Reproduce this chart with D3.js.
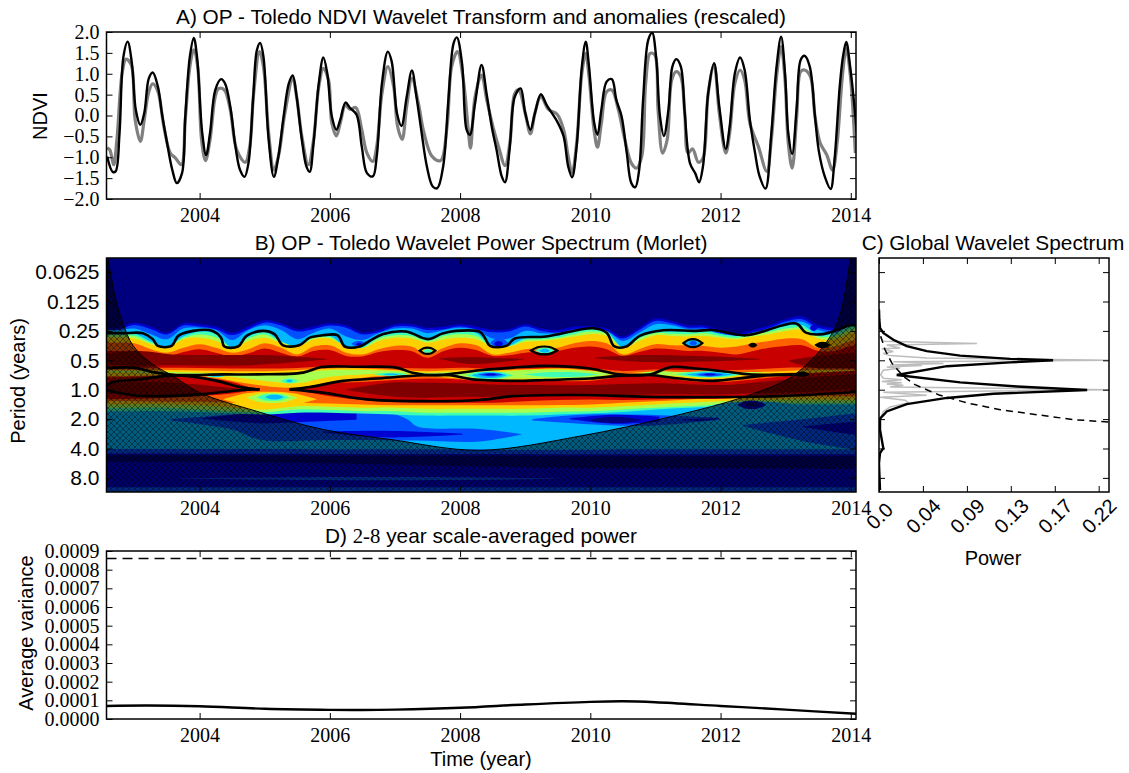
<!DOCTYPE html>
<html>
<head>
<meta charset="utf-8">
<script src="https://d3js.org/d3.v7.min.js"></script>
<style>
body { margin: 0; background: #fff; }
svg { display: block; }
.sans { font-family: "Liberation Sans", sans-serif; }
.serif { font-family: "Liberation Serif", serif; }
</style>
</head>
<body>
<div id="chart"></div>
<script>
// Panel A - NDVI wavelet transform (black) and anomalies (grey)
var blackYears = [2002.58,2002.665,2002.71,2002.77,2002.83,2002.895,2002.96,2003.02,2003.09,2003.15,2003.22,2003.28,2003.36,2003.42,2003.5,2003.58,2003.65,2003.73,2003.78,2003.85,2003.91,2003.96,2004.04,2004.1,2004.16,2004.24,2004.33,2004.39,2004.47,2004.55,2004.62,2004.69,2004.75,2004.82,2004.88,2004.93,2004.98,2005.06,2005.14,2005.21,2005.29,2005.37,2005.43,2005.49,2005.57,2005.64,2005.69,2005.75,2005.83,2005.9,2005.96,2006.03,2006.1,2006.16,2006.24,2006.31,2006.41,2006.49,2006.57,2006.66,2006.72,2006.8,2006.89,2006.95,2007.03,2007.1,2007.18,2007.26,2007.33,2007.41,2007.49,2007.58,2007.65,2007.74,2007.82,2007.9,2007.95,2008.03,2008.1,2008.15,2008.23,2008.33,2008.41,2008.49,2008.56,2008.64,2008.69,2008.76,2008.84,2008.93,2009,2009.08,2009.15,2009.24,2009.33,2009.49,2009.59,2009.66,2009.72,2009.79,2009.87,2009.93,2009.98,2010.06,2010.11,2010.17,2010.25,2010.33,2010.4,2010.48,2010.56,2010.63,2010.69,2010.75,2010.81,2010.89,2010.95,2011.01,2011.07,2011.13,2011.2,2011.26,2011.32,2011.39,2011.45,2011.53,2011.61,2011.67,2011.73,2011.81,2011.9,2011.98,2012.08,2012.14,2012.22,2012.3,2012.37,2012.45,2012.53,2012.6,2012.69,2012.78,2012.86,2012.93,2012.99,2013.04,2013.1,2013.17,2013.23,2013.29,2013.37,2013.45,2013.51,2013.6,2013.69,2013.75,2013.83,2013.88,2013.93,2013.99,2014.07,2014.09];
var blackNdvi = [-0.98,-1.35,-1.34,-0.42,1.41,1.77,1.25,0.14,-0.22,0.06,0.89,1.03,0.69,0.06,-0.66,-1.3,-1.62,-1.38,-0.02,1.41,1.86,1.41,-0.42,-0.95,-0.42,0.61,0.87,0.77,0.22,-0.74,-1.3,-1.47,-1.14,0.37,1.57,1.74,1.41,-0.58,-1.47,-0.98,-0.02,0.77,0.96,0.45,-0.58,-1.22,-1.35,-0.66,0.77,1.39,1.01,-0.02,-0.34,-0.1,0.31,0.18,0.02,-0.74,-1.38,-1.46,-0.98,0.77,1.53,1.29,0.06,-0.25,0.45,1.08,0.45,-0.42,-1.22,-1.7,-1.74,-1.22,0.37,1.73,1.87,1.25,-0.34,-0.46,0.29,1.21,0.49,-0.3,-0.82,-1.46,-1.6,-0.82,0.45,0.65,0.06,-0.34,0.06,0.51,0.25,-0.14,-0.5,-1.22,-1.48,-0.74,1.17,1.77,1.17,-0.18,-0.46,0.14,0.81,0.87,0.37,-0.02,-0.9,-1.62,-1.72,-1.3,0.37,1.81,1.98,1.41,-0.02,-0.49,0.14,1.17,1.35,1.17,0.06,-1.14,-1.38,-1.6,-1.22,0.53,1.25,0.22,-0.8,-0.26,1.01,1.39,1.09,-0.1,-0.9,-1.46,-1.75,-0.42,1.17,1.89,1.01,-0.42,-0.92,0.22,1.33,1.43,1.17,-0.02,-0.86,-1.46,-1.76,-1.06,0.69,1.41,1.76,1.17,-0.02,-0.4];
var greyYears = [2002.58,2002.62,2002.68,2002.73,2002.81,2002.87,2002.95,2003.01,2003.09,2003.15,2003.22,2003.28,2003.36,2003.45,2003.55,2003.63,2003.72,2003.78,2003.85,2003.91,2003.97,2004.03,2004.09,2004.16,2004.24,2004.29,2004.38,2004.47,2004.57,2004.7,2004.77,2004.83,2004.92,2004.98,2005.06,2005.14,2005.21,2005.31,2005.43,2005.49,2005.57,2005.67,2005.75,2005.83,2005.9,2005.98,2006.03,2006.1,2006.16,2006.24,2006.31,2006.4,2006.49,2006.57,2006.66,2006.72,2006.8,2006.89,2006.98,2007.04,2007.11,2007.18,2007.26,2007.36,2007.44,2007.57,2007.7,2007.8,2007.87,2007.96,2008.05,2008.13,2008.16,2008.23,2008.33,2008.41,2008.51,2008.59,2008.69,2008.77,2008.84,2008.9,2009,2009.08,2009.15,2009.24,2009.36,2009.49,2009.59,2009.66,2009.72,2009.79,2009.87,2009.93,2009.98,2010.06,2010.11,2010.17,2010.25,2010.33,2010.43,2010.53,2010.63,2010.71,2010.79,2010.85,2010.92,2010.99,2011.04,2011.11,2011.18,2011.25,2011.32,2011.39,2011.45,2011.5,2011.57,2011.66,2011.73,2011.81,2011.9,2011.98,2012.08,2012.14,2012.22,2012.3,2012.37,2012.45,2012.58,2012.71,2012.78,2012.86,2012.93,2012.99,2013.04,2013.1,2013.17,2013.23,2013.29,2013.38,2013.45,2013.53,2013.63,2013.72,2013.79,2013.87,2013.93,2013.99,2014.07];
var greyNdvi = [-0.78,-0.82,-1.18,-0.58,1.01,1.35,1.21,-0.1,-0.62,-0.1,0.57,0.76,0.57,-0.26,-0.9,-1.02,-1.18,-0.1,1.17,1.57,1.17,-0.58,-1.08,-0.58,0.45,0.64,0.61,0.14,-0.82,-1.12,-0.74,0.53,1.53,1.17,-0.42,-1.3,-0.98,0.06,0.89,0.45,-0.5,-1.18,-0.58,0.69,1.13,0.85,-0.18,-0.49,-0.18,0.25,0.15,0.19,-0.34,-0.9,-1.1,-0.74,0.53,1.17,0.69,-0.26,-0.57,0.22,0.89,0.29,-0.38,-0.98,-1.08,-0.26,1.17,1.53,0.85,-0.42,-0.78,0.45,0.97,0.37,-0.3,-0.74,-1.2,-0.58,0.53,0.61,0.06,-0.44,0.06,0.45,0.14,0.03,-0.34,-0.98,-1.38,-0.66,1.01,1.49,0.93,-0.38,-0.76,-0.18,0.57,0.61,0.14,-0.58,-1.14,-1.26,-0.98,0.77,1.49,1.45,0.14,-0.9,-0.58,0.85,1.05,0.93,0.06,-0.9,-0.8,-1.12,-1.02,0.53,1.21,0.06,-0.9,-0.42,0.77,1.09,0.85,-0.18,-0.74,-1.34,-0.58,0.93,1.65,0.85,-0.66,-1.26,-0.02,1.05,1.09,0.93,-0.02,-0.66,-0.94,-1.31,-0.66,0.93,1.6,1.01,-0.9];
var ndviTicks = [-2,-1.5,-1,-0.5,0,0.5,1,1.5,2];
var yearTicks = [2004,2006,2008,2010,2012,2014];

// Panel B - filled power levels, log2(period) of each level edge
var levelColors = ["#00007f","#0000d0","#0050ff","#00b8ff","#40ffb4","#a8ff50","#ffd000","#ff6000","#c80000","#7f0000"];
var periodTicks = [-4,-3,-2,-1,0,1,2,3];
var periodLabels = ["0.0625","0.125","0.25","0.5","1.0","2.0","4.0","8.0"];
var quarterYears = d3.range(0, 48).map(function(i) { return 2002.5 + i * 0.25; });
var halfYears = d3.range(0, 25).map(function(i) { return 2002.5 + i * 0.5; });

var blueTop = [-2.06,-2.11,-2.28,-2.15,-1.94,-2.26,-2.23,-2.15,-1.94,-2.15,-2.36,-2.26,-2.06,-2.15,-2.26,-2.19,-1.94,-2.03,-2.23,-2.23,-2.11,-2.15,-2.23,-2.15,-2.03,-2.06,-2.23,-2.08,-2.03,-2.15,-2.15,-2.08,-1.81,-2.11,-2.42,-2.34,-2.19,-2.19,-2.03,-1.92,-2.03,-2.19,-2.4,-2.49,-2.19,-2.11,-2.23,-2.28];
var azureTop = [-1.98,-2.03,-2.2,-2.06,-1.88,-2.18,-2.15,-2.06,-1.86,-2.06,-2.28,-2.18,-1.98,-2.06,-2.18,-2.11,-1.88,-1.95,-2.15,-2.15,-2.03,-2.06,-2.15,-2.06,-1.95,-1.98,-2.15,-2,-1.95,-2.06,-2.06,-2,-1.74,-2.03,-2.34,-2.26,-2.11,-2.11,-1.95,-1.85,-1.95,-2.11,-2.32,-2.4,-2.11,-2.03,-2.15,-2.2];
var cyanTop = [-2.03,-2.03,-2.08,-1.89,-1.72,-2.08,-2.11,-2.03,-1.69,-2.03,-2.19,-2.03,-1.72,-1.94,-2.08,-1.81,-1.69,-1.92,-2.08,-2.08,-1.92,-2.03,-2.11,-2.03,-1.74,-1.74,-2,-1.92,-1.92,-2.03,-2.08,-2,-1.66,-1.94,-2.23,-2.19,-2.06,-2.06,-1.89,-1.77,-1.89,-2.06,-2.26,-2.31,-2.03,-1.94,-2.06,-2.15];
var greenTop = [-1.9,-1.9,-1.9,-1.64,-1.47,-1.81,-1.97,-1.9,-1.44,-1.81,-1.97,-1.64,-1.49,-1.81,-1.83,-1.47,-1.44,-1.81,-1.92,-1.92,-1.72,-1.92,-1.98,-1.92,-1.47,-1.49,-1.75,-1.78,-1.83,-1.98,-2.07,-1.98,-1.44,-1.81,-2,-1.98,-1.98,-2.01,-1.9,-1.83,-1.94,-2.03,-2.17,-2.2,-1.86,-1.92,-2.17,-2.2];
var limeTop = [-1.85,-1.85,-1.83,-1.6,-1.45,-1.76,-1.88,-1.78,-1.43,-1.74,-1.88,-1.63,-1.48,-1.76,-1.78,-1.47,-1.43,-1.74,-1.85,-1.83,-1.66,-1.83,-1.89,-1.83,-1.47,-1.48,-1.69,-1.72,-1.77,-1.89,-1.98,-1.91,-1.43,-1.74,-1.92,-1.9,-1.89,-1.92,-1.83,-1.77,-1.88,-1.97,-2.08,-2.11,-1.81,-1.83,-2.06,-2.1];
var yellowTop = [-1.77,-1.77,-1.74,-1.55,-1.43,-1.72,-1.77,-1.66,-1.43,-1.66,-1.77,-1.6,-1.47,-1.72,-1.74,-1.47,-1.42,-1.66,-1.77,-1.74,-1.6,-1.72,-1.77,-1.72,-1.47,-1.47,-1.63,-1.66,-1.72,-1.81,-1.89,-1.83,-1.43,-1.66,-1.85,-1.83,-1.81,-1.83,-1.77,-1.72,-1.81,-1.89,-2,-2.03,-1.74,-1.72,-1.94,-2];
var orangeTop = [-1.6,-1.6,-1.58,-1.38,-1.26,-1.43,-1.55,-1.43,-1.26,-1.38,-1.58,-1.43,-1.2,-1.47,-1.51,-1.26,-1.2,-1.38,-1.49,-1.47,-1.2,-1.43,-1.58,-1.51,-1.2,-1.26,-1.38,-1.4,-1.43,-1.58,-1.66,-1.58,-1.2,-1.38,-1.55,-1.51,-1.51,-1.49,-1.43,-1.47,-1.58,-1.66,-1.74,-1.72,-1.43,-1.47,-1.66,-1.72];
var redTop = [-1.32,-1.32,-1.32,-1.2,-1.13,-1.28,-1.38,-1.26,-1.13,-1.24,-1.4,-1.26,-1.13,-1.32,-1.35,-1.15,-1.13,-1.28,-1.35,-1.32,-1.09,-1.32,-1.43,-1.35,-1.15,-1.17,-1.26,-1.28,-1.32,-1.43,-1.47,-1.38,-1.15,-1.28,-1.4,-1.38,-1.32,-1.32,-1.26,-1.2,-1.32,-1.43,-1.49,-1.51,-1.32,-1.32,-1.49,-1.49];

var redUpperBottom = [-0.75,-0.75,-0.75,-0.74,-0.72,-0.72,-0.74,-0.81,-0.78,-0.75,-0.72,-0.75,-0.72,-0.72,-0.75,-0.72,-0.64,-0.69,-0.67,-0.67,-0.69,-0.75,-0.75,-0.75,-0.75];
var orangeUpperBottom = [-0.67,-0.67,-0.67,-0.65,-0.63,-0.63,-0.67,-0.72,-0.72,-0.67,-0.63,-0.67,-0.65,-0.69,-0.72,-0.65,-0.56,-0.63,-0.6,-0.6,-0.6,-0.64,-0.67,-0.67,-0.67];
var yellowUpperBottom = [-0.64,-0.64,-0.61,-0.58,-0.53,-0.52,-0.58,-0.67,-0.67,-0.64,-0.58,-0.6,-0.6,-0.67,-0.69,-0.64,-0.52,-0.64,-0.64,-0.58,-0.6,-0.6,-0.6,-0.6,-0.6];
var yellowLowerTop = [-0.58,-0.58,-0.56,-0.52,-0.44,-0.3,-0.22,-0.44,-0.52,-0.56,-0.52,-0.44,-0.38,-0.38,-0.38,-0.41,-0.58,-0.52,-0.44,-0.41,-0.56,-0.64,-0.64,-0.64,-0.64];
var yellowLowerBottom = [0.5,0.5,0.5,0.53,0.61,0.67,0.56,0.58,0.61,0.61,0.65,0.65,0.65,0.65,0.61,0.61,0.56,0.5,0.44,0.39,0.35,0.33,0.33,0.33,0.33];
var orangeLowerTop = [-0.47,-0.47,-0.49,-0.49,-0.3,-0.13,-0.07,-0.26,-0.41,-0.49,-0.47,-0.38,-0.33,-0.33,-0.33,-0.35,-0.56,-0.49,-0.38,-0.35,-0.49,-0.58,-0.58,-0.58,-0.58];
var orangeLowerBottom = [0.39,0.39,0.41,0.41,0.44,0.44,0.44,0.47,0.5,0.53,0.53,0.53,0.53,0.53,0.52,0.5,0.44,0.39,0.33,0.27,0.22,0.22,0.22,0.22,0.22];
var limeBottom = [0.61,0.61,0.61,0.67,0.73,0.76,0.67,0.69,0.73,0.73,0.78,0.78,0.78,0.78,0.75,0.73,0.67,0.61,0.56,0.5,0.44,0.44,0.44,0.44,0.44];
var greenBottom = [0.73,0.73,0.73,0.76,0.81,0.84,0.78,0.78,0.81,0.84,0.88,0.88,0.88,0.88,0.84,0.81,0.76,0.67,0.61,0.56,0.5,0.5,0.5,0.5,0.5];
var cyanBottom = [2.02,2.02,2.02,2.02,2.02,2.02,2.02,2.03,2.03,2.03,2.03,2.03,2.04,2.04,2.04,2.04,2.03,2.03,2.03,2.03,2.03,2.03,2.03,2.03,2.03];
var azureBottom = [2.17,2.17,2.17,2.18,2.18,2.18,2.18,2.19,2.19,2.19,2.19,2.19,2.19,2.19,2.2,2.2,2.2,2.2,2.2,2.2,2.2,2.2,2.2,2.2,2.2];
var blueBottom = [2.23,2.23,2.23,2.24,2.24,2.24,2.24,2.25,2.25,2.25,2.25,2.25,2.25,2.25,2.26,2.26,2.26,2.26,2.26,2.26,2.26,2.26,2.26,2.26,2.26];
var lowBlueYears = [2002.5,2004,2006,2008,2010,2012,2014.2];
var lowBlueTop = [2.45,2.45,2.5,2.6,2.67,2.67,2.7];
var lowBlueBottom = [3.6,3.6,3.6,3.6,3.6,3.6,3.6];

var redLeftYears = [2002.5,2002.98,2003.49,2004,2004.5,2004.82];
var redLeftTop = [-0.41,-0.44,-0.47,-0.44,-0.26,-0.03];
var redLeftBottom = [0.33,0.31,0.27,0.22,0.13,0.01];
var redRightYears = [2005.48,2006,2006.5,2007,2007.5,2008,2008.5,2009,2009.5,2010,2010.5,2011,2011.5,2012,2012.5,2013,2013.5,2014,2014.5];
var redRightTop = [-0.03,-0.22,-0.26,-0.33,-0.38,-0.35,-0.26,-0.3,-0.3,-0.3,-0.44,-0.47,-0.3,-0.26,-0.35,-0.47,-0.58,-0.64,-0.64];
var redRightBottom = [0.01,0.22,0.35,0.42,0.44,0.44,0.44,0.39,0.35,0.33,0.35,0.33,0.31,0.31,0.22,0.16,0.13,0.08,0.08];

var darkUpperAYears = [2002.5,2003.08,2003.59,2004.1,2004.61,2005.13,2005.95];
var darkUpperATop = [-1.2,-1.32,-1.2,-1.18,-1.18,-1.17,-1.05];
var darkUpperABottom = [-0.86,-0.81,-0.83,-0.82,-0.82,-0.88,-1.03];
var darkUpperBYears = [2007.68,2008.09,2008.45,2008.97];
var darkUpperBTop = [-1.07,-1.1,-1.09,-1.05];
var darkUpperBBottom = [-1.05,-0.88,-0.9,-1.03];
var darkUpperCYears = [2010.09,2010.86,2011.98,2012.6];
var darkUpperCTop = [-1.1,-1.18,-1.12,-1.05];
var darkUpperCBottom = [-1.06,-0.94,-0.98,-1.03];
var darkUpperDYears = [2013.06,2013.42,2013.72,2014.1];
var darkUpperDTop = [-1.0,-1.13,-1.2,-1.26];
var darkUpperDBottom = [-0.96,-0.75,-0.72,-0.72];
var darkLeftYears = [2002.5,2003.59,2004.61];
var darkLeftTop = [-0.22,-0.24,-0.03];
var darkLeftBottom = [0.13,0.19,0.01];
var darkRightYears = [2006.25,2006.92,2007.43,2008,2008.5,2009,2010,2011,2012,2012.5,2013,2014,2014.2];
var darkRightTop = [-0.01,-0.24,-0.24,-0.22,-0.18,-0.16,-0.16,-0.22,-0.16,-0.24,-0.35,-0.52,-0.52];
var darkRightBottom = [0.01,0.22,0.27,0.24,0.24,0.16,0.19,0.16,0.16,0.13,0.1,-0.01,-0.01];

// lenses in the low-power part, painted before the green level
var lensATopYears = [2003.55,2004.1,2005,2006.81,2007.2,2007.34,2008.3,2008.94];
var lensATop = [1.0,0.91,0.77,0.74,1.02,1.25,1.34,1.51];
var lensABotYears = [2003.55,2004.51,2004.93,2006.05,2007.34,2008.3,2008.94];
var lensABottom = [1.05,1.36,1.7,1.71,1.73,1.76,1.52];
var lensBYears = [2004.05,2004.97,2005.74,2006.41];
var lensBTop = [0.97,0.77,0.73,0.74];
var lensBBottom = [0.99,1.14,1.08,1.02];
var lensDYears = [2005.88,2006.81,2008.04];
var lensDTop = [1.43,1.4,1.5];
var lensDBottom = [1.45,1.62,1.52];
var lensEYears = [2009.11,2009.84,2010.85,2011.98];
var lensETop = [1.0,0.85,0.85,0.95];
var lensEBottom = [1.05,1.16,1.23,1.02];
var lensFYears = [2009.68,2010.34,2011.06];
var lensFTop = [0.97,0.85,0.91];
var lensFBottom = [1.0,1.16,1.08];
var lensGYears = [2012.34,2013.29,2014.1];
var lensGTop = [1.2,1.0,0.8];
var lensGBottom = [1.23,1.76,2.05];
var lensHYears = [2013.26,2013.7,2014.1];
var lensHTop = [1.25,1.16,1.08];
var lensHBottom = [1.27,1.42,1.54];
var lensIYears = [2011.37,2011.7,2011.98];
var lensITop = [1.02,0.99,0.98];
var lensIBottom = [1.04,1.06,1.0];
var stripeAYears = [2003.7,2005.5,2008,2009.53];
var stripeATop = [3.02,2.98,2.98,3.02];
var stripeABottom = [3.03,3.07,3.07,3.03];
var stripeBYears = [2002.5,2006,2010,2014.2];
var stripeBTop = [3.32,3.32,3.32,3.32];
var stripeBBottom = [3.6,3.6,3.6,3.6];

// small closed spots: start, end, top, bottom, level
var spotStart = [2004.05,2004.14,2005.25,2005.33,2006.66,2006.81,2008.09,2008.17,2008.28,2008.36,2008.97,2011.32,2011.47,2011.63,2011.73,2004.36,2004.72,2004.87,2005,2006.33,2006.4,2008.46,2008.52,2011.45,2011.52,2009.15,2009.22,2007.43,2013.37,2011.88,2012.25,2012.35,2009.95];
var spotEnd = [2004.43,2004.38,2005.51,2005.43,2007.22,2007.07,2008.81,2008.73,2008.66,2008.58,2010.14,2012.34,2012.19,2012.04,2011.94,2005.8,2005.51,2005.38,2005.3,2006.56,2006.5,2008.74,2008.66,2011.7,2011.64,2009.45,2009.38,2007.58,2013.49,2013.16,2012.7,2012.6,2010.8];
var spotTop = [-0.56,-0.53,-0.38,-0.34,-0.58,-0.55,-0.63,-0.59,-0.57,-0.55,-0.6,-0.63,-0.59,-0.57,-0.55,0.07,0.1,0.14,0.17,-1.66,-1.6,-1.75,-1.66,-1.7,-1.66,-1.43,-1.39,-1.38,-2.2,0.4,0.37,0.43,0.93];
var spotBottom = [-0.42,-0.44,-0.22,-0.25,-0.47,-0.49,-0.35,-0.4,-0.45,-0.48,-0.43,-0.42,-0.44,-0.45,-0.48,0.58,0.45,0.38,0.33,-1.47,-1.5,-1.44,-1.47,-1.45,-1.5,-1.24,-1.26,-1.25,-2,0.63,0.66,0.58,1.13];
var spotLevel = [4,3,4,3,4,3,4,3,2,1,4,4,3,2,1,6,5,4,3,2,1,2,1,3,2,4,3,4,1,3,1,0,0];

// significance contours
var sigTopYears = [2002.57,2002.82,2003.13,2003.28,2003.36,2003.57,2003.67,2003.9,2004.2,2004.33,2004.38,2004.59,2004.72,2004.97,2005.15,2005.28,2005.53,2005.69,2005.89,2006.12,2006.23,2006.46,2006.61,2006.81,2007.17,2007.5,2007.73,2007.94,2008.3,2008.38,2008.46,2008.71,2008.84,2009.32,2010.04,2010.25,2010.37,2010.55,2010.76,2011.12,2011.63,2011.88,2012.39,2013.16,2013.31,2013.57,2013.99,2014.08];
var sigTopOct = [-1.92,-1.92,-1.92,-1.72,-1.49,-1.49,-1.83,-2,-2,-1.77,-1.47,-1.47,-1.83,-2,-1.89,-1.51,-1.51,-1.77,-1.85,-1.85,-1.47,-1.47,-1.66,-1.89,-1.98,-1.72,-1.91,-2,-1.97,-1.77,-1.49,-1.49,-1.74,-1.81,-2.09,-1.94,-1.47,-1.47,-1.83,-2.02,-2,-2.03,-1.85,-2.25,-1.94,-1.89,-2.19,-2.19];
var sigMidYears = [2002.57,2002.98,2003.33,2003.64,2004.36,2004.87,2005.59,2005.87,2006.4,2007.02,2007.27,2007.63,2007.94,2008.3,2008.81,2009.32,2009.99,2010.45,2010.91,2011.24,2011.63,2012.14,2012.44,2013.31];
var sigMidOct = [-0.73,-0.75,-0.58,-0.5,-0.52,-0.52,-0.58,-0.77,-0.78,-0.75,-0.58,-0.49,-0.56,-0.66,-0.75,-0.81,-0.72,-0.52,-0.52,-0.77,-0.72,-0.6,-0.52,-0.52];
var sigLeftUpYears = [2002.57,2002.67,2003.08,2003.49,2003.8,2004.26,2004.66,2004.92];
var sigLeftUpOct = [-0.13,-0.26,-0.35,-0.47,-0.47,-0.3,-0.07,-0.01];
var sigLeftLowYears = [2002.57,2002.98,2003.44,2004,2004.36,2004.66,2004.92];
var sigLeftLowOct = [0.01,0.19,0.22,0.16,0.08,0.01,-0.01];
var sigRightUpYears = [2005.38,2005.69,2006.2,2006.71,2007.43,2007.84,2008.19,2008.81,2009.32,2009.99,2010.45,2010.91,2011.37,2011.88,2012.39,2012.75,2013.31];
var sigRightUpOct = [-0.01,-0.09,-0.3,-0.38,-0.49,-0.49,-0.35,-0.3,-0.33,-0.38,-0.47,-0.5,-0.38,-0.3,-0.41,-0.49,-0.52];
var sigRightLowYears = [2005.38,2005.89,2006.56,2007.43,2008.3,2008.81,2009.84,2010.86,2011.88,2012.91,2014.08];
var sigRightLowOct = [-0.01,0.1,0.33,0.39,0.35,0.22,0.18,0.24,0.25,0.22,0.08];
var blobStart = [2007.38,2009.09,2011.43,2012.45,2013.47,2013.16];
var blobEnd = [2007.62,2009.49,2011.72,2012.54,2013.66,2013.34];
var blobTop = [-1.43,-1.47,-1.72,-1.56,-1.59,-0.58];
var blobBottom = [-1.22,-1.2,-1.45,-1.47,-1.45,-0.47];
var blobFilled = [0,0,0,1,1,1];

// cone of influence
var coiYears = [2002.59,2002.7,2002.82,2002.98,2003.28,2003.59,2004,2004.87,2005.89,2006.92,2008.3,2009.84,2011.27,2012.39,2013.11,2013.62,2013.83,2013.99];
var coiOct = [-4.5,-3.19,-2.28,-1.49,-0.86,-0.47,0.1,0.73,1.35,1.69,2.06,1.58,0.9,0.22,-0.47,-1.6,-2.51,-4.44];

// Panel C - global wavelet spectrum
var globalPower = [0,0.0003,0.001,0.0043,0.0143,0.0277,0.0477,0.081,0.131,0.1737,0.131,0.0677,0.0177,0.081,0.1377,0.2077,0.1143,0.0677,0.0277,0.0077,0.001,0.001,0.0043,0.001,0,0.001];
var globalOct = [-2.73,-2.39,-2.1,-1.93,-1.7,-1.48,-1.31,-1.16,-1.05,-1,-0.93,-0.8,-0.5,-0.25,-0.11,0.01,0.14,0.28,0.49,0.74,0.99,1.36,1.99,2.16,2.5,3.41];
var fourierPower = [0,0.0043,0.0977,0.0077,0.021,0.0027,0.0143,0.0043,0.011,0.0477,0.2343,0.0143,0.0643,0.011,0.0427,0.0077,0.021,0.0043,0.0017,0.0043,0.0227,0.0027,0.0227,0.0077,0.0243,0.011,0.2343,0.0043,0.0477,0.001,0.026,0.0293,0.011,0.0043,0.001,0];
var fourierOct = [-1.84,-1.65,-1.57,-1.52,-1.42,-1.39,-1.3,-1.23,-1.16,-1.08,-1,-0.95,-0.89,-0.84,-0.82,-0.77,-0.73,-0.66,-0.51,-0.39,-0.34,-0.28,-0.24,-0.19,-0.15,-0.09,0,0.09,0.19,0.26,0.36,0.45,0.59,0.74,1.02,1.82];
var signifPower = [0.0017,0.006,0.0127,0.0243,0.036,0.0593,0.0877,0.121,0.1577,0.1943,0.2303];
var signifOct = [-1.82,-1.36,-0.91,-0.45,-0.17,0.17,0.45,0.68,0.85,1.02,1.1];
var powerTicks = [0,0.0438,0.0877,0.1315,0.1754,0.2192];
var powerLabels = ["0.0","0.04","0.09","0.13","0.17","0.22"];

// Panel D - scale-averaged power
var avgYears = [2002.57,2003.2,2004,2005,2006,2006.5,2007,2008,2009,2010,2010.5,2011,2012,2013,2014.08];
var avgPower = [0.00007,0.000072,0.000068,0.000055,0.000049,0.000048,0.00005,0.00006,0.000078,0.000092,0.000095,0.00009,0.00007,0.00005,0.000028];
var avgSignif = 0.00086;
var avgTicks = [0,0.0001,0.0002,0.0003,0.0004,0.0005,0.0006,0.0007,0.0008,0.0009];

// Layout
var w = 1129, h = 773;
var left = 106.5, right = 856;

var svg = d3.select("#chart").append("svg")
  .attr("width", w)
  .attr("height", h);

var xTime = d3.scaleLinear().domain([2002.57, 2014.08]).range([left, right]);
var yNdvi = d3.scaleLinear().domain([-2, 2]).range([199, 32]);
var yOct = d3.scaleLinear().domain([-4.48, 3.48]).range([258, 492]);
var xPower = d3.scaleLinear().domain([0, 0.2295]).range([879, 1109]);
var yAvg = d3.scaleLinear().domain([0, 0.0009]).range([719, 551]);

var defs = svg.append("defs");
function addClip(id, x0, y0, x1, y1) {
  defs.append("clipPath").attr("id", id).append("rect")
    .attr("x", x0).attr("y", y0).attr("width", x1 - x0).attr("height", y1 - y0);
}
addClip("clipA", left, 32, right, 199);
addClip("clipB", left, 258, right, 492);
addClip("clipC", 879, 258, 1109, 492);
addClip("clipD", left, 551, right, 719);

var hatch = defs.append("pattern").attr("id", "hatch")
  .attr("patternUnits", "userSpaceOnUse")
  .attr("width", 6).attr("height", 6);
hatch.append("path").attr("d", "M0,0L6,6M6,0L0,6")
  .attr("stroke", "#000").attr("stroke-width", 0.6).attr("fill", "none");

// pairs(x, y) zips two arrays into points
function pairs(xs, ys) {
  return xs.map(function(x, i) { return [x, ys[i]]; });
}

var smooth = d3.line()
  .curve(d3.curveCatmullRom)
  .x(function(d) { return xTime(d[0]); })
  .y(function(d) { return yOct(d[1]); });

function band(topYears, top, botYears, bot) {
  var upper = smooth(pairs(topYears, top));
  var lower = smooth(pairs(botYears, bot).reverse());
  return upper + "L" + lower.slice(1) + "Z";
}

function drawAxes(x, y, xTicks, yTicks, xFmt, yFmt, yClass, ySize) {
  var x0 = x.range()[0], x1 = x.range()[1];
  var yBottom = d3.max(y.range()), yTop = d3.min(y.range());

  var bottom = svg.append("g").attr("transform", "translate(0," + yBottom + ")")
    .call(d3.axisBottom(x).tickValues(xTicks).tickSizeInner(-6).tickSizeOuter(0).tickPadding(9).tickFormat(xFmt));
  var top = svg.append("g").attr("transform", "translate(0," + yTop + ")")
    .call(d3.axisTop(x).tickValues(xTicks).tickSizeInner(-6).tickSizeOuter(0).tickFormat(""));
  var leftAxis = svg.append("g").attr("transform", "translate(" + x0 + ",0)")
    .call(d3.axisLeft(y).tickValues(yTicks).tickSizeInner(-6).tickSizeOuter(0).tickPadding(7).tickFormat(yFmt));
  var rightAxis = svg.append("g").attr("transform", "translate(" + x1 + ",0)")
    .call(d3.axisRight(y).tickValues(yTicks).tickSizeInner(-6).tickSizeOuter(0).tickFormat(""));

  [bottom, top, leftAxis, rightAxis].forEach(function(a) {
    a.select(".domain").remove();
    a.selectAll("line").attr("stroke", "#000").attr("stroke-width", 1);
    a.selectAll("text").attr("fill", "#000");
  });
  bottom.selectAll("text").attr("class", "serif").style("font-size", "20px");
  leftAxis.selectAll("text").attr("class", yClass).style("font-size", ySize);

  svg.append("rect")
    .attr("x", x0).attr("y", yTop)
    .attr("width", x1 - x0).attr("height", yBottom - yTop)
    .attr("fill", "none").attr("stroke", "#000").attr("stroke-width", 1.5);
  return bottom;
}

function label(txt, x, y, rotate, size) {
  var t = svg.append("text").attr("class", "sans")
    .attr("text-anchor", "middle")
    .style("font-size", size || "20px")
    .attr("fill", "#000")
    .text(txt);
  if (rotate) {
    t.attr("transform", "translate(" + x + "," + y + ") rotate(-90)");
  } else {
    t.attr("x", x).attr("y", y);
  }
  return t;
}

/*** Panel A ***/
var lineA = d3.line()
  .curve(d3.curveCatmullRom)
  .x(function(d) { return xTime(d[0]); })
  .y(function(d) { return yNdvi(d[1]); });

var gA = svg.append("g").attr("clip-path", "url(#clipA)");
gA.append("path")
  .attr("d", lineA(pairs(greyYears, greyNdvi)))
  .attr("fill", "none").attr("stroke", "#808080").attr("stroke-width", 3.2);
gA.append("path")
  .attr("d", lineA(pairs(blackYears, blackNdvi)))
  .attr("fill", "none").attr("stroke", "#000").attr("stroke-width", 2.4);

drawAxes(xTime, yNdvi, yearTicks, ndviTicks, d3.format("d"), function(d) {
  return d3.format(".1f")(d).replace("-", "\u2212");
}, "serif", "20px");
label("A) OP - Toledo NDVI Wavelet Transform and anomalies (rescaled)", 481, 24, false, "20.8px");
label("NDVI", 47, 116, true);

/*** Panel B ***/
var gB = svg.append("g").attr("clip-path", "url(#clipB)");
gB.append("rect")
  .attr("x", left).attr("y", 258)
  .attr("width", right - left).attr("height", 234)
  .attr("fill", levelColors[0]);

function paint(level, topYears, top, botYears, bot) {
  gB.append("path")
    .attr("d", band(topYears, top, botYears, bot))
    .attr("fill", levelColors[level]);
}

paint(1, quarterYears, blueTop, halfYears, blueBottom);
paint(2, quarterYears, azureTop, halfYears, azureBottom);
paint(3, quarterYears, cyanTop, halfYears, cyanBottom);
paint(1, lowBlueYears, lowBlueTop, lowBlueYears, lowBlueBottom);
paint(2, stripeAYears, stripeATop, stripeAYears, stripeABottom);
paint(2, stripeBYears, stripeBTop, stripeBYears, stripeBBottom);

paint(2, lensATopYears, lensATop, lensABotYears, lensABottom);
paint(1, lensBYears, lensBTop, lensBYears, lensBBottom);
paint(1, lensDYears, lensDTop, lensDYears, lensDBottom);
paint(2, lensEYears, lensETop, lensEYears, lensEBottom);
paint(1, lensFYears, lensFTop, lensFYears, lensFBottom);
paint(2, lensGYears, lensGTop, lensGYears, lensGBottom);
paint(1, lensHYears, lensHTop, lensHYears, lensHBottom);
paint(1, lensIYears, lensITop, lensIYears, lensIBottom);

paint(4, quarterYears, greenTop, halfYears, greenBottom);
paint(5, quarterYears, limeTop, halfYears, limeBottom);
paint(6, quarterYears, yellowTop, halfYears, yellowUpperBottom);
paint(6, halfYears, yellowLowerTop, halfYears, yellowLowerBottom);
paint(7, quarterYears, orangeTop, halfYears, orangeUpperBottom);
paint(7, halfYears, orangeLowerTop, halfYears, orangeLowerBottom);
paint(8, quarterYears, redTop, halfYears, redUpperBottom);
paint(8, redLeftYears, redLeftTop, redLeftYears, redLeftBottom);
paint(8, redRightYears, redRightTop, redRightYears, redRightBottom);
paint(9, darkUpperAYears, darkUpperATop, darkUpperAYears, darkUpperABottom);
paint(9, darkUpperBYears, darkUpperBTop, darkUpperBYears, darkUpperBBottom);
paint(9, darkUpperCYears, darkUpperCTop, darkUpperCYears, darkUpperCBottom);
paint(9, darkUpperDYears, darkUpperDTop, darkUpperDYears, darkUpperDBottom);
paint(9, darkLeftYears, darkLeftTop, darkLeftYears, darkLeftBottom);
paint(9, darkRightYears, darkRightTop, darkRightYears, darkRightBottom);

// lens(start, end, top, bottom) gives a closed path with pointed ends
var lensArea = d3.area()
  .curve(d3.curveCatmullRom)
  .x(function(d) { return xTime(d[0]); })
  .y0(function(d) { return yOct(d[1]); })
  .y1(function(d) { return yOct(d[2]); });

function lens(a, b, top, bot) {
  var m = (top + bot) / 2;
  return lensArea([[a, m, m], [a + (b - a) * 0.25, top + (m - top) * 0.2, bot - (bot - m) * 0.2],
    [(a + b) / 2, top, bot], [b - (b - a) * 0.25, top + (m - top) * 0.2, bot - (bot - m) * 0.2], [b, m, m]]);
}

spotStart.forEach(function(a, i) {
  gB.append("path")
    .attr("d", lens(a, spotEnd[i], spotTop[i], spotBottom[i]))
    .attr("fill", levelColors[spotLevel[i]]);
});

// Cone of influence: shaded and hatched outside the curve
var coiPts = pairs(coiYears, coiOct);
var coiLine = smooth(coiPts);
var coiOutside = coiLine + "L" + xTime(2014.2) + "," + yOct(-4.48) + "L" + xTime(2014.2) + "," + yOct(3.48) +
  "L" + xTime(2002.5) + "," + yOct(3.48) + "L" + xTime(2002.5) + "," + yOct(-4.48) + "Z";
gB.append("path").attr("d", coiOutside).attr("fill", "#000").attr("fill-opacity", 0.5);
gB.append("path").attr("d", coiOutside).attr("fill", "url(#hatch)").attr("fill-opacity", 0.7);
gB.append("path").attr("d", coiLine).attr("fill", "none").attr("stroke", "#000").attr("stroke-width", 1);

// Significance contours
function sigLine(xs, ys) {
  gB.append("path")
    .attr("d", smooth(pairs(xs, ys)))
    .attr("fill", "none").attr("stroke", "#000").attr("stroke-width", 2.6);
}
sigLine(sigTopYears, sigTopOct);
sigLine(sigMidYears, sigMidOct);
sigLine(sigLeftUpYears, sigLeftUpOct);
sigLine(sigLeftLowYears, sigLeftLowOct);
sigLine(sigRightUpYears, sigRightUpOct);
sigLine(sigRightLowYears, sigRightLowOct);
blobStart.forEach(function(a, i) {
  gB.append("path")
    .attr("d", lens(a, blobEnd[i], blobTop[i], blobBottom[i]))
    .attr("fill", blobFilled[i] ? "#000" : "none")
    .attr("stroke", "#000").attr("stroke-width", 2.2);
});

drawAxes(xTime, yOct, yearTicks, periodTicks, d3.format("d"), function(d, i) {
  return periodLabels[i];
}, "sans", "21px");
label("B) OP - Toledo Wavelet Power Spectrum (Morlet)", 481, 250, false, "20.8px");
label("Period (years)", 25, 381, true);

/*** Panel C ***/
var lineC = d3.line()
  .x(function(d) { return xPower(d[0]); })
  .y(function(d) { return yOct(d[1]); });

var gC = svg.append("g").attr("clip-path", "url(#clipC)");
gC.append("path").attr("d", lineC(pairs(fourierPower, fourierOct)))
  .attr("fill", "none").attr("stroke", "#bdbdbd").attr("stroke-width", 1.5);
gC.append("path").attr("d", lineC(pairs(signifPower, signifOct)))
  .attr("fill", "none").attr("stroke", "#000").attr("stroke-width", 1.5).attr("stroke-dasharray", "7,5");
gC.append("path").attr("d", lineC(pairs(globalPower, globalOct)))
  .attr("fill", "none").attr("stroke", "#000").attr("stroke-width", 2.4);

var axC = drawAxes(xPower, yOct, powerTicks, periodTicks, function(d, i) { return powerLabels[i]; }, function() { return ""; }, "sans", "20px");
axC.selectAll("text")
  .attr("class", "sans")
  .style("font-size", "20px")
  .attr("text-anchor", "middle")
  .attr("y", 0)
  .attr("dy", "0.35em")
  .attr("transform", "translate(0,24) rotate(-45)");
label("C) Global Wavelet Spectrum", 993, 250, false, "20.8px");
label("Power", 993, 565);

/*** Panel D ***/
var lineD = d3.line()
  .curve(d3.curveCatmullRom)
  .x(function(d) { return xTime(d[0]); })
  .y(function(d) { return yAvg(d[1]); });

var gD = svg.append("g").attr("clip-path", "url(#clipD)");
gD.append("path").attr("d", lineD(pairs(avgYears, avgPower)))
  .attr("fill", "none").attr("stroke", "#000").attr("stroke-width", 2.4);
gD.append("path").attr("d", lineD(pairs([2002.57, 2014.08], [avgSignif, avgSignif])))
  .attr("fill", "none").attr("stroke", "#000").attr("stroke-width", 1.5).attr("stroke-dasharray", "10,6");

drawAxes(xTime, yAvg, yearTicks, avgTicks, d3.format("d"), d3.format(".4f"), "serif", "20px");

var titleD = svg.append("text").attr("class", "sans")
  .attr("x", 481).attr("y", 543)
  .attr("text-anchor", "middle")
  .style("font-size", "20.8px");
titleD.append("tspan").text("D) ");
titleD.append("tspan").attr("class", "serif").text("2-8");
titleD.append("tspan").text(" year scale-averaged power");
label("Average variance", 33, 633, true);
label("Time (year)", 481, 766);
</script>
</body>
</html>
